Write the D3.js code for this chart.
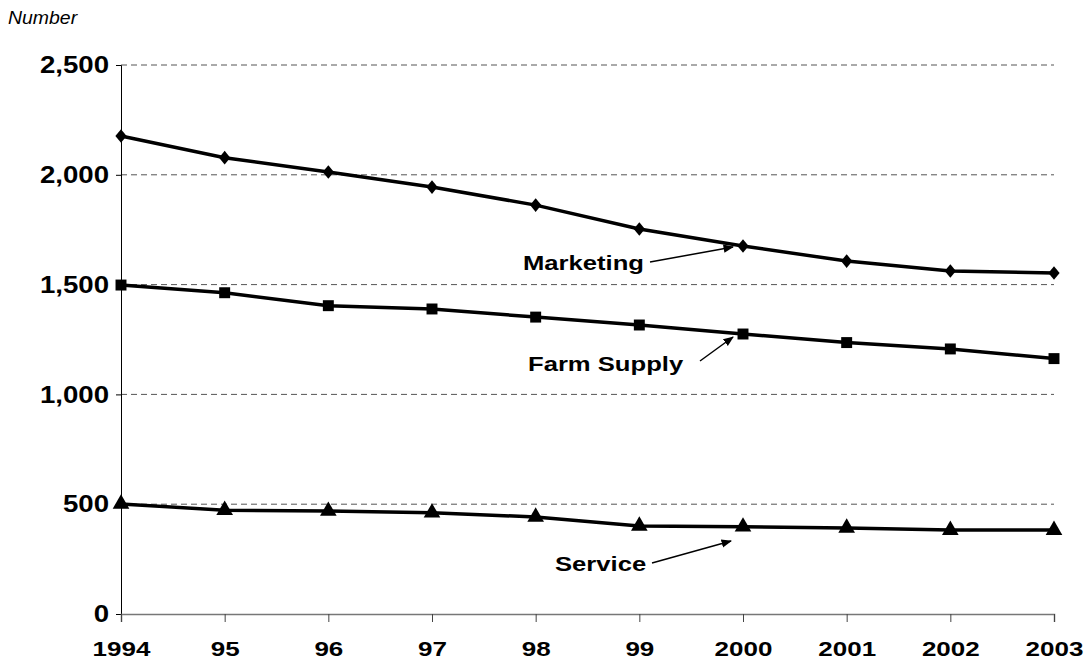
<!DOCTYPE html>
<html><head><meta charset="utf-8">
<script src="https://cdn.jsdelivr.net/npm/d3@7"></script>
<style>body{margin:0;background:#fff}text{font-family:Arial,"Liberation Sans",sans-serif}</style>
</head><body><div id="chart"></div>
<script>
var years = [1994,1995,1996,1997,1998,1999,2000,2001,2002,2003];
var yearLabels = ["1994","95","96","97","98","99","2000","2001","2002","2003"];
var marketing = [2177,2078,2013,1944,1862,1753,1676,1607,1562,1553];
var farmSupply = [1498,1463,1404,1389,1352,1316,1275,1236,1207,1163];
var service = [501,473,469,461,442,401,397,392,382,382];
var yTicks = [0,500,1000,1500,2000,2500];

var w = 1085, h = 665;
var svg = d3.select("#chart").append("svg").attr("width", w).attr("height", h);
var x = d3.scaleLinear().domain([1994,2003]).range([121,1054]);
var y = d3.scaleLinear().domain([0,2500]).range([614,65]);

// widen text horizontally like the original artwork
function stretch(sel, f) {
	sel.each(function() {
		var l = this.getComputedTextLength();
		d3.select(this).attr("textLength", l*f).attr("lengthAdjust", "spacingAndGlyphs");
	});
}

// gridlines
svg.selectAll("line.grid").data(yTicks.slice(1)).enter().append("line")
	.attr("x1", 121).attr("x2", 1054)
	.attr("y1", function(d){return y(d)}).attr("y2", function(d){return y(d)})
	.attr("stroke", "#555").attr("stroke-dasharray", "6,4").attr("stroke-width", 1);

// y axis
var ya = svg.append("g").attr("transform", "translate(121,0)")
	.call(d3.axisLeft(y).tickValues(yTicks).tickSize(5).tickFormat(d3.format(",")));
ya.select(".domain").attr("stroke", "#000");
ya.selectAll("text").attr("font-size", 24).attr("font-weight", "bold").attr("fill", "#000").attr("dx", -4).call(stretch, 1.15);

// x axis
var xa = svg.append("g").attr("transform", "translate(0,614)")
	.call(d3.axisBottom(x).tickValues(years).tickSize(8).tickFormat(function(d,i){return yearLabels[i]}));
xa.select(".domain").attr("stroke", "#777").attr("stroke-width", 1.5);
xa.selectAll("line").attr("stroke", "#444");
xa.selectAll("text").attr("font-size", 20).attr("font-weight", "bold").attr("fill", "#000").attr("dy", "1.55em").call(stretch, 1.3);

svg.append("text").attr("x", 8).attr("y", 24).attr("font-size", 18).attr("font-style", "italic").text("Number").call(stretch, 1.08);

var line = d3.line().x(function(d,i){return x(years[i])}).y(function(d){return y(d)});
[marketing, farmSupply, service].forEach(function(s, k) {
	svg.append("path").attr("d", line(s)).attr("fill", "none").attr("stroke", "#000").attr("stroke-width", 3.5);
	var sym = [d3.symbolSquare, d3.symbolSquare, d3.symbolTriangle][k];
	var size = [70, 120, 120][k];
	svg.selectAll("path.m"+k).data(s).enter().append("path")
		.attr("d", d3.symbol().type(sym).size(size))
		.attr("transform", function(d,i){return "translate("+x(years[i])+","+y(d)+")"+(k==0?" scale(0.95,1.15) rotate(45)":"")})
		.attr("fill", "#000");
});

// annotations
svg.append("defs").append("marker").attr("id","ah").attr("viewBox","0 0 10 10").attr("refX",9).attr("refY",5)
	.attr("markerWidth",7).attr("markerHeight",7).attr("orient","auto")
	.append("path").attr("d","M0,1L10,5L0,9z").attr("fill","#000");
var notes = [
	{t:"Marketing", tx:523, ty:270, x1:650, y1:262, x2:733, y2:247},
	{t:"Farm Supply", tx:528, ty:371, x1:700, y1:361, x2:733, y2:337},
	{t:"Service", tx:555, ty:571, x1:652, y1:563, x2:731, y2:541}
];
notes.forEach(function(n){
	svg.append("text").attr("x", n.tx).attr("y", n.ty).attr("font-size", 21).attr("font-weight", "bold").text(n.t).call(stretch, 1.22);
	svg.append("line").attr("x1", n.x1).attr("y1", n.y1).attr("x2", n.x2).attr("y2", n.y2)
		.attr("stroke", "#000").attr("stroke-width", 1.5).attr("marker-end", "url(#ah)");
});
</script></body></html>
